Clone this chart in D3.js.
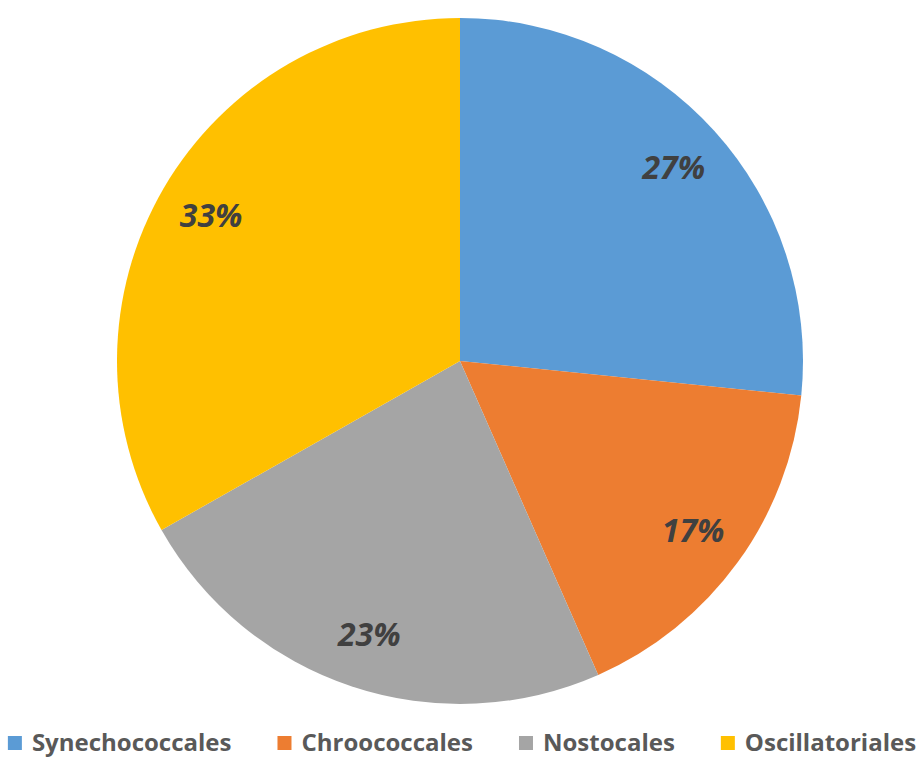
<!DOCTYPE html>
<html>
<head>
<meta charset="utf-8">
<script src="https://cdn.jsdelivr.net/npm/d3@7"></script>
<style>
    body { margin: 0; background: #fff; }
    svg { display: block; }
</style>
</head>
<body>
<div id="chart"></div>
<script>
// order data
let categories = ['Synechococcales', 'Chroococcales', 'Nostocales', 'Oscillatoriales'];
let shares = [26.6, 16.8, 23.4, 33.2];
let colours = ['#5b9bd5', '#ed7d31', '#a5a5a5', '#ffc000'];

let width = 924,
    height = 759,
    cx = 460,
    cy = 361,
    radius = 343;

let svg = d3.select('#chart').append('svg')
    .attr('width', width)
    .attr('height', height);

let data = categories.map(function(c, i) {
    return { name: c, value: shares[i] };
});

let total = d3.sum(shares);

let pie = d3.pie()
    .sort(null)
    .value(function(d) { return d.value; });

let arc = d3.arc()
    .innerRadius(0)
    .outerRadius(radius);

let labelArc = d3.arc()
    .innerRadius(radius * 0.84)
    .outerRadius(radius * 0.84);

let color = d3.scaleOrdinal()
    .domain(categories)
    .range(colours);

let g = svg.append('g')
    .attr('transform', 'translate(' + cx + ',' + cy + ')');

let slices = g.selectAll('.slice')
    .data(pie(data))
    .enter().append('g')
    .attr('class', 'slice');

slices.append('path')
    .attr('d', arc)
    .attr('fill', function(d) { return color(d.data.name); });

slices.append('text')
    .attr('transform', function(d) {
        return 'translate(' + labelArc.centroid(d) + ')';
    })
    .attr('dy', '0.35em')
    .style('text-anchor', 'middle')
    .style('font-family', '"Open Sans", "Noto Sans", sans-serif')
    .style('font-weight', 'bold')
    .style('font-style', 'italic')
    .style('font-size', '32px')
    .style('fill', '#404040')
    .text(function(d) {
        return Math.round(d.data.value / total * 100) + '%';
    });

// legend along the bottom
let legend = svg.append('g').attr('class', 'legend');

let items = legend.selectAll('.item')
    .data(categories)
    .enter().append('g')
    .attr('class', 'item');

items.append('rect')
    .attr('width', 14)
    .attr('height', 14)
    .attr('y', -15)
    .attr('fill', function(d) { return color(d); });

items.append('text')
    .attr('x', 24)
    .style('font-family', '"Open Sans", "Noto Sans", sans-serif')
    .style('font-weight', 'bold')
    .style('font-size', '24px')
    .style('fill', '#595959')
    .text(function(d) { return d; });

let xpos = 0, gap = 46;
let offsets = [];
items.each(function() {
    offsets.push(xpos);
    let w = d3.select(this).select('text').node().getComputedTextLength();
    xpos += 24 + w + gap;
});
let legendWidth = xpos - gap;
let startX = (width - legendWidth) / 2;
items.attr('transform', function(d, i) {
    return 'translate(' + (startX + offsets[i]) + ',751)';
});
</script>
</body>
</html>
